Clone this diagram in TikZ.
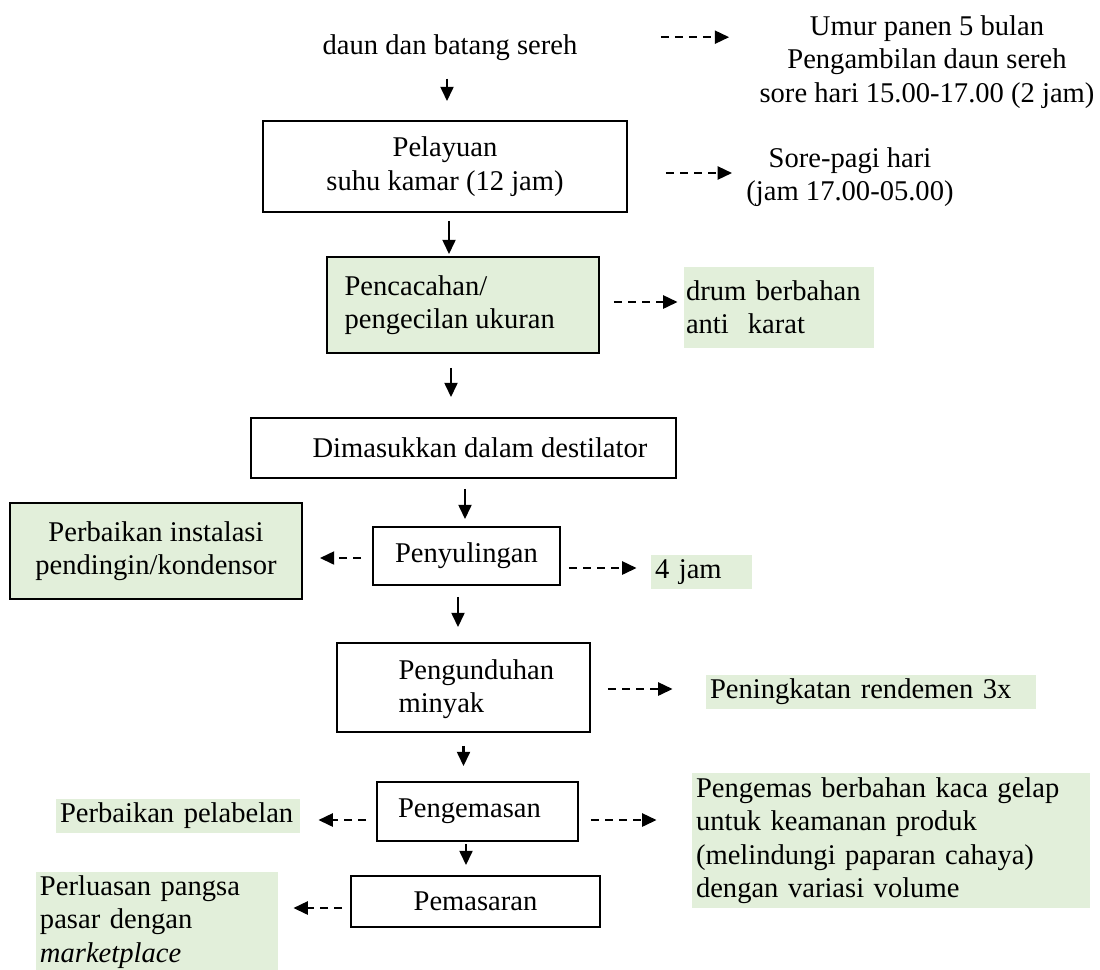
\documentclass[tikz,border=0pt]{standalone}
\usepackage{fontspec}
\setmainfont{Liberation Serif}
\usetikzlibrary{calc,arrows.meta}

\newlength\pxl
\setlength\pxl{0.42pt}
\definecolor{hijau}{HTML}{E2EFDA}

\tikzset{
  teks/.style={font=\fontsize{12}{14}\selectfont, inner sep=0pt, align=center},
  kotak/.style={teks, draw, line width=0.8pt},
  catatan/.style={teks, fill=hijau, align=left, inner xsep=4*\pxl},
  alir/.style={-{Triangle[length=6pt,width=5.5pt]}, line width=0.85pt},
  putus/.style={alir, dash pattern=on 3.4pt off 2.5pt},
}

\begin{document}
\begin{tikzpicture}[x=0.42pt,y=-0.42pt]
			\useasboundingbox (0,0) rectangle (1100,969);
			% main flow of the process
			\node[teks,anchor=base] (sereh) at (450,54) {daun dan batang sereh};
			\node[kotak,minimum width=364*\pxl,minimum height=91*\pxl] (layu) at (445,166.5) {Pelayuan\\suhu kamar (12 jam)};
			\node[kotak,fill=hijau,minimum width=272*\pxl,minimum height=96*\pxl] (cacah) at (463,305) {};
			\node[teks,anchor=west,align=left] (cacahteks) at ($(cacah.west)+(18,0)$) {Pencacahan/\\pengecilan ukuran};
			\node[kotak,minimum width=425*\pxl,minimum height=60*\pxl] (destilasi) at (463.5,448) {};
			\node[teks,anchor=west] (destilasiteks) at ($(destilasi.west)+(62,0)$) {Dimasukkan dalam destilator};
			\node[kotak,minimum width=187*\pxl,minimum height=58*\pxl] (suling) at (466.5,556) {Penyulingan};
			\node[kotak,minimum width=253*\pxl,minimum height=89*\pxl] (unduh) at (463.5,687.5) {};
			\node[teks,anchor=west,align=left] (unduhteks) at ($(unduh.west)+(62,1.5)$) {Pengunduhan\\minyak};
			\node[kotak,minimum width=201*\pxl,minimum height=59*\pxl] (kemas) at (477.5,811.5) {};
			\node[teks] (kemasteks) at ($(kemas.center)+(-8,0)$) {Pengemasan};
			\node[kotak,minimum width=249*\pxl,minimum height=51*\pxl] (pasar) at (475.5,901.5) {Pemasaran};
			% notes on the right and left
			\node[teks] (umur) at (927,62) {Umur panen 5 bulan\\Pengambilan daun sereh\\sore hari 15.00-17.00 (2 jam)};
			\node[teks] (sorepagi) at (850,177) {Sore-pagi hari\\(jam 17.00-05.00)};
			\node[catatan,text width=186*\pxl,inner xsep=2*\pxl,minimum height=81*\pxl] (drum) at (779,307.5) {drum berbahan\\anti\ \ karat};
			\node[kotak,fill=hijau,minimum width=292*\pxl,minimum height=96*\pxl] (kondensor) at (156,551) {Perbaikan instalasi\\pendingin/kondensor};
			\node[catatan,text width=93*\pxl,minimum height=34*\pxl] (empatjam) at (701.5,572) {4 jam};
			\node[catatan,text width=322*\pxl,minimum height=34*\pxl] (rendemen) at (871,692) {Peningkatan rendemen 3x};
			\node[catatan,text width=236*\pxl,minimum height=34*\pxl] (pelabelan) at (178,816) {Perbaikan pelabelan};
			\node[catatan,text width=390*\pxl,minimum height=135*\pxl] (kaca) at (891,840.5) {Pengemas berbahan kaca gelap\\untuk keamanan produk\\(melindungi paparan cahaya)\\dengan variasi volume};
			\node[catatan,text width=234*\pxl,minimum height=100*\pxl] (pangsa) at (157,922) {Perluasan pangsa\\pasar dengan\\\textit{marketplace}};
			% solid arrows between the steps
			\draw[alir] ($(sereh.south)+(-3,18)$) -- ($(sereh.south |- layu.north)+(-3,-19)$);
			\draw[alir] ($(layu.south)+(4,8)$) -- ($(layu.south |- cacah.north)+(4,-2)$);
			\draw[alir] ($(cacah.south)+(-12,14)$) -- ($(cacah.south |- destilasi.north)+(-12,-20)$);
			\draw[alir] ($(destilasi.south)+(1.5,10)$) -- ($(destilasi.south |- suling.north)+(1.5,-7)$);
			\draw[alir] ($(suling.south)+(-8.5,11)$) -- ($(suling.south |- unduh.north)+(-8.5,-15)$);
			\draw[alir] ($(unduh.south)+(0,13)$) -- ($(unduh.south |- kemas.north)+(0,-15)$);
			\draw[alir] ($(kemas.south)+(-11.5,2)$) -- ($(kemas.south |- pasar.north)+(-11.5,-10)$);
			% dashed arrows to the notes
			\draw[putus] ($(sereh.east)+(83,-10)$) -- ($(umur.west |- sereh.east)+(-30,-10)$);
			\draw[putus] ($(layu.east)+(38,6.5)$) -- ($(sorepagi.west |- layu.east)+(-14,6.5)$);
			\draw[putus] ($(cacah.east)+(14,-3)$) -- ($(drum.west |- cacah.east)+(-6,-3)$);
			\draw[putus] ($(suling.west)+(-11,2)$) -- ($(kondensor.east |- suling.west)+(17,2)$);
			\draw[putus] ($(suling.east)+(8,12)$) -- ($(empatjam.west |- suling.east)+(-14,12)$);
			\draw[putus] ($(unduh.east)+(17,1.5)$) -- ($(rendemen.west |- unduh.east)+(-33,1.5)$);
			\draw[putus] ($(kemas.west)+(-10,8.5)$) -- ($(pelabelan.east |- kemas.west)+(18,8.5)$);
			\draw[putus] ($(kemas.east)+(12,8.5)$) -- ($(kaca.west |- kemas.east)+(-35,8.5)$);
			\draw[putus] ($(pasar.west)+(-8,6.5)$) -- ($(pangsa.east |- pasar.west)+(15,6.5)$);
		\end{tikzpicture}
\end{document}
